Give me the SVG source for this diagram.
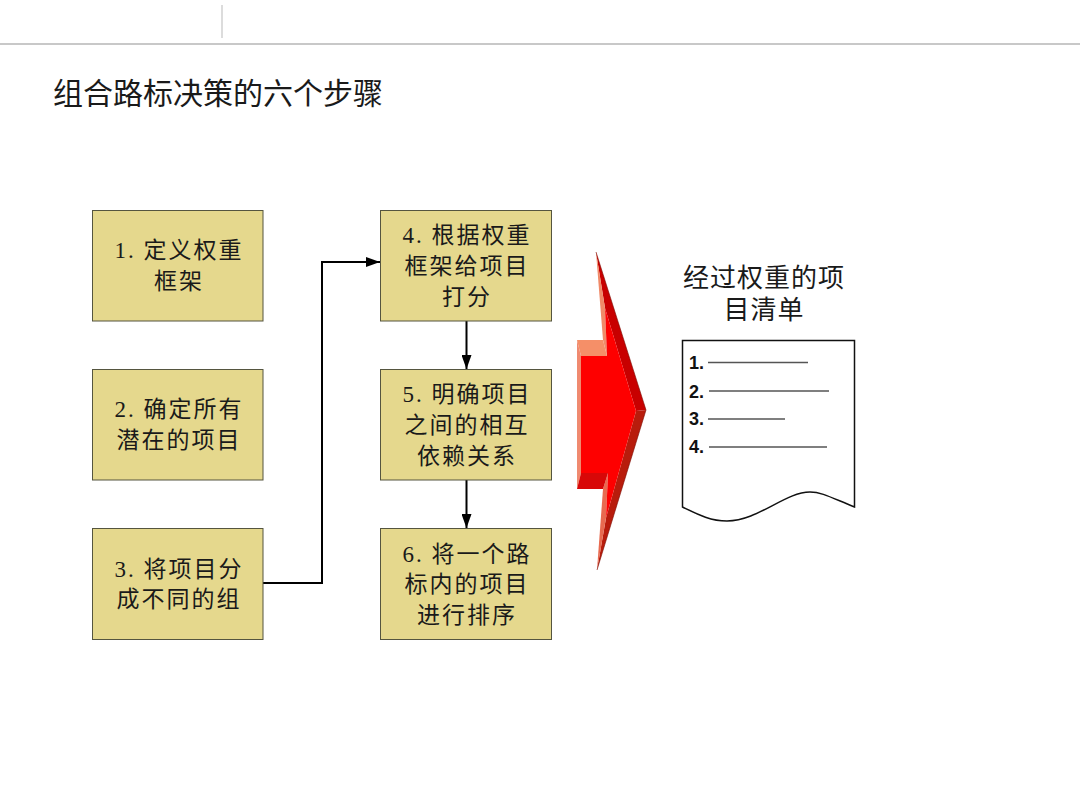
<svg xmlns="http://www.w3.org/2000/svg" width="1080" height="810" viewBox="0 0 1080 810">
<style>
text{font-family:"Liberation Serif","Noto Sans CJK SC",serif;fill:#1a1a1a}
.box{fill:#e5d88d;stroke:#55553f;stroke-width:1}
.lbl{font-size:23px;letter-spacing:2px;text-anchor:middle}
.con{fill:none;stroke:#000;stroke-width:2}
.ln{stroke:#555;stroke-width:1.5}
.num{font-family:"Liberation Sans","Noto Sans CJK SC",sans-serif;font-weight:bold;font-size:18px;fill:#111}
</style>
<defs><marker id="ah" markerUnits="userSpaceOnUse" markerWidth="14" markerHeight="10" refX="14" refY="5" orient="auto"><path d="M0 0L14 5L0 10Z" fill="#000"/></marker></defs>
<rect width="1080" height="810" fill="#fff"/>
<g id="chrome"><path d="M0 44H1080" stroke="#c8c8c8" stroke-width="2"/><path d="M222 5V38" stroke="#d0d0d0" stroke-width="1.5"/></g>
<text id="title" x="53" y="104" font-size="30">组合路标决策的六个步骤</text>
<g id="connectors">
<path class="con" d="M263 583H322V262H380" marker-end="url(#ah)"/>
<path class="con" d="M466.500 321V369" marker-end="url(#ah)"/>
<path class="con" d="M466.500 480V528" marker-end="url(#ah)"/>
</g>
<g id="n1"><rect class="box" x="92.500" y="210.500" width="170.500" height="110.500"/><text class="lbl" x="179" y="258">1. 定义权重</text><text class="lbl" x="179" y="289">框架</text></g>
<g id="n2"><rect class="box" x="92.500" y="369.500" width="170.500" height="110.500"/><text class="lbl" x="179" y="417">2. 确定所有</text><text class="lbl" x="179" y="448">潜在的项目</text></g>
<g id="n3"><rect class="box" x="92.500" y="528.500" width="170.500" height="111"/><text class="lbl" x="179" y="577">3. 将项目分</text><text class="lbl" x="179" y="607">成不同的组</text></g>
<g id="n4"><rect class="box" x="380.500" y="210.500" width="171" height="110.500"/><text class="lbl" x="467" y="243">4. 根据权重</text><text class="lbl" x="467" y="274">框架给项目</text><text class="lbl" x="467" y="305">打分</text></g>
<g id="n5"><rect class="box" x="380.500" y="369.500" width="171" height="110.500"/><text class="lbl" x="467" y="402">5. 明确项目</text><text class="lbl" x="467" y="433">之间的相互</text><text class="lbl" x="467" y="464">依赖关系</text></g>
<g id="n6"><rect class="box" x="380.500" y="528.500" width="171" height="111"/><text class="lbl" x="467" y="562">6. 将一个路</text><text class="lbl" x="467" y="592">标内的项目</text><text class="lbl" x="467" y="623">进行排序</text></g>
<g id="bigarrow">
<polygon points="596,252 646,410 636,411 605,308" fill="#c80000"/>
<polygon points="646,410 597,570 606,518 636,411" fill="#b81c0c"/>
<polygon points="596,252 605,308 607,356 603,340" fill="#f08a68"/>
<polygon points="603,489 608,473 606,518 597,570" fill="#e86a50"/>
<polygon points="577,340 603,340 607,356 581,356" fill="#f58f68"/>
<polygon points="577,340 581,356 581,473 577,489" fill="#f08a70"/>
<polygon points="581,473 608,473 603,489 577,489" fill="#d80808"/>
<polygon points="581,356 607,356 605,308 636,411 606,518 608,473 581,473" fill="#fe0000"/>
<path d="M596 252L646 410L597 570" fill="none" stroke="#7a0a00" stroke-width=".6"/>
</g>
<g id="doc">
<text x="764" y="287" font-size="26" letter-spacing="1" text-anchor="middle">经过权重的项</text>
<text x="764" y="319" font-size="26" letter-spacing="1" text-anchor="middle">目清单</text>
<path d="M682.500 340.500H854.500V507C832 498 822 492 810 492C785 492 758 521 727 521C710 521 697 514 682.500 507Z" fill="#fff" stroke="#111" stroke-width="1.500"/>
<text class="num" x="689" y="369">1.</text><path class="ln" d="M708 362.500H808"/>
<text class="num" x="689" y="398">2.</text><path class="ln" d="M709 391H829"/>
<text class="num" x="689" y="425">3.</text><path class="ln" d="M708 419H785"/>
<text class="num" x="689" y="453">4.</text><path class="ln" d="M709 447H827"/>
</g>
</svg>
